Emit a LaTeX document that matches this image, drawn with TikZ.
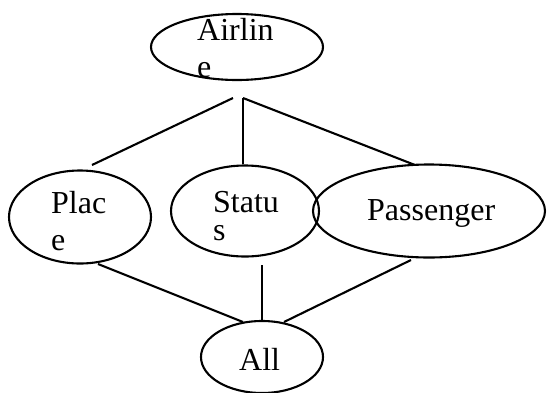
\documentclass[tikz,border=0pt]{standalone}
\usepackage{fontspec}
\setmainfont{Liberation Serif}
\usetikzlibrary{shapes.geometric}
\begin{document}
\begin{tikzpicture}[x=1pt,y=-1pt,
  ent/.style={draw, ellipse, line width=2.1pt, inner sep=0pt},
  lbl/.style={inner sep=0pt, align=left, anchor=base west},
  link/.style={line width=2.1pt}]
\useasboundingbox (0,0) rectangle (547,392);
% entities
\node[ent, minimum width=172pt, minimum height=66pt] (airline) at (237,47) {};
\node[ent, minimum width=142pt, minimum height=93pt] (place) at (80,217) {};
\node[ent, minimum width=148pt, minimum height=91pt] (status) at (245,211) {};
\node[ent, minimum width=232pt, minimum height=93pt] (passenger) at (429,211) {};
\node[ent, minimum width=122pt, minimum height=72pt] (all) at (262,357) {};
% labels (multi-line nodes: base = last line)
\node[lbl, font=\fontsize{32}{37}\selectfont] (tairline) at (197,77) {Airlin\\e};
\node[lbl, font=\fontsize{32}{37}\selectfont] (tplace) at (51,250) {Plac\\e};
\node[lbl, font=\fontsize{32}{28}\selectfont] (tstatus) at (213,240) {Statu\\s};
\node[lbl, font=\fontsize{32}{37}\selectfont] (tpassenger) at (367,220) {Passenger};
\node[lbl, font=\fontsize{32}{37}\selectfont] (tall) at (239,370) {All};
% connector ends
\coordinate (hubL) at (233,98);
\coordinate (hub) at (243,98);
\coordinate (placeT) at (92,165);
\coordinate (statusT) at (243,164);
\coordinate (passT) at (415,165);
\coordinate (placeB) at (98,264);
\coordinate (statusB) at (262,265);
\coordinate (passB) at (411,260);
\coordinate (allL) at (243,322);
\coordinate (allM) at (262,321);
\coordinate (allR) at (284,322);
% connectors
\draw[link] (hubL) -- (placeT);
\draw[link] (hub) -- (statusT);
\draw[link] (hub) -- (passT);
\draw[link] (placeB) -- (allL);
\draw[link] (statusB) -- (allM);
\draw[link] (passB) -- (allR);
\end{tikzpicture}
\end{document}
